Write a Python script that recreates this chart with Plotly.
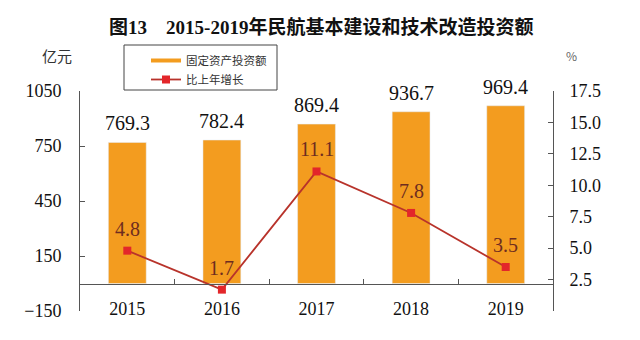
import plotly.graph_objects as go

years = ["2015", "2016", "2017", "2018", "2019"]
investment = [769.3, 782.4, 869.4, 936.7, 969.4]
growth = [4.8, 1.7, 11.1, 7.8, 3.5]
left_ticks = [-150, 150, 450, 750, 1050]
right_ticks = [2.5, 5.0, 7.5, 10.0, 12.5, 15.0, 17.5]
right_ticktext = ["2.5", "5.0", "7.5", "10.0", "12.5", "15.0", "17.5"]

BAR = "#F39C1F"
LINE = "#B8332B"
MARK = "#E3262A"
LBL = "#6E2C1F"
AX = "#555555"
SERIF = "Liberation Serif, Noto Sans CJK SC"
NUM = "Liberation Serif"
CJK = "Noto Sans CJK SC"

W, H = 640, 340
L, R, T, B = 80, 87, 91, 29
pw, ph = W - L - R, H - T - B


def px2paper(px, py):
    return (px - L) / pw, (H - B - py) / ph


fig = go.Figure()
fig.add_trace(go.Bar(x=years, y=investment, marker_color=BAR, width=0.4,
                     showlegend=False, yaxis="y"))
# legend proxy for bar (line-style sample as in the reference)
fig.add_trace(go.Scatter(x=years[:1], y=[None], mode="lines", name="固定资产投资额",
                         line=dict(color=BAR, width=4), yaxis="y"))
fig.add_trace(go.Scatter(x=years, y=growth, mode="lines+markers", name="比上年增长",
                         line=dict(color=LINE, width=1.8),
                         marker=dict(symbol="square", size=8, color=MARK),
                         yaxis="y2"))

ann = []
for i, v in enumerate(investment):
    ann.append(dict(x=i, y=v, xref="x", yref="y", text=f"{v:.1f}", showarrow=False,
                    yshift=19, yanchor="middle",
                    font=dict(family=NUM, size=20, color="#111")))
for i, v in enumerate(growth):
    ann.append(dict(x=i, y=v, xref="x", yref="y2", text=f"{v:.1f}", showarrow=False,
                    yshift=22, yanchor="middle",
                    font=dict(family=NUM, size=20, color=LBL)))
ax_, ay_ = px2paper(57, 55)
ann.append(dict(x=ax_, y=ay_, xref="paper", yref="paper", text="亿元", showarrow=False,
                xanchor="center", yanchor="middle",
                font=dict(family=CJK, size=15, color="#333")))
ax_, ay_ = px2paper(571, 55)
ann.append(dict(x=ax_, y=ay_, xref="paper", yref="paper", text="%", showarrow=False,
                xanchor="center", yanchor="middle",
                font=dict(family=CJK, size=12, color="#666")))

bx0, by0 = px2paper(124, 45)
bx1, by1 = px2paper(277, 90)
lx, ly = px2paper(146, 46)

fig.update_layout(
    width=W, height=H,
    margin=dict(l=L, r=R, t=T, b=B),
    paper_bgcolor="white", plot_bgcolor="white",
    title=dict(text="<b>图13　2015-2019年民航基本建设和技术改造投资额</b>",
               x=0.502, xanchor="center", y=1 - 27 / H, yanchor="middle",
               font=dict(family=SERIF, size=19, color="#111")),
    xaxis=dict(type="category", categoryorder="array", categoryarray=years,
               range=[-0.5, 4.5],
               anchor="free", position=(0 - (-150)) / 1200,
               showline=True, linecolor=AX, linewidth=1,
               ticks="inside", tickson="boundaries", ticklen=5, tickcolor=AX,
               ticklabelstandoff=9, showgrid=False, zeroline=False,
               tickfont=dict(family=NUM, size=18, color="#111")),
    yaxis=dict(range=[-150, 1050], tickvals=left_ticks, showline=True,
               linecolor=AX, linewidth=1, ticks="inside", ticklen=5, tickcolor=AX,
               showgrid=False, zeroline=False, ticklabelstandoff=14,
               tickfont=dict(family=NUM, size=18, color="#111")),
    yaxis2=dict(range=[0, 17.5], tickvals=right_ticks, ticktext=right_ticktext,
                overlaying="y", side="right", showline=True, linecolor=AX,
                linewidth=1, ticks="inside", ticklen=5, tickcolor=AX,
                showgrid=False, zeroline=False, ticklabelstandoff=12,
                tickfont=dict(family=NUM, size=18, color="#111")),
    legend=dict(x=lx, y=ly, xanchor="left", yanchor="top",
                borderwidth=0, bgcolor="rgba(0,0,0,0)",
                font=dict(family=CJK, size=11.5, color="#333"),
                itemwidth=30, tracegroupgap=2),
    shapes=[dict(type="rect", xref="paper", yref="paper", x0=bx0, x1=bx1,
                 y0=by1, y1=by0, line=dict(color="#444", width=1),
                 fillcolor="white", layer="below")],
    annotations=ann,
)

fig.write_html("out.html")
